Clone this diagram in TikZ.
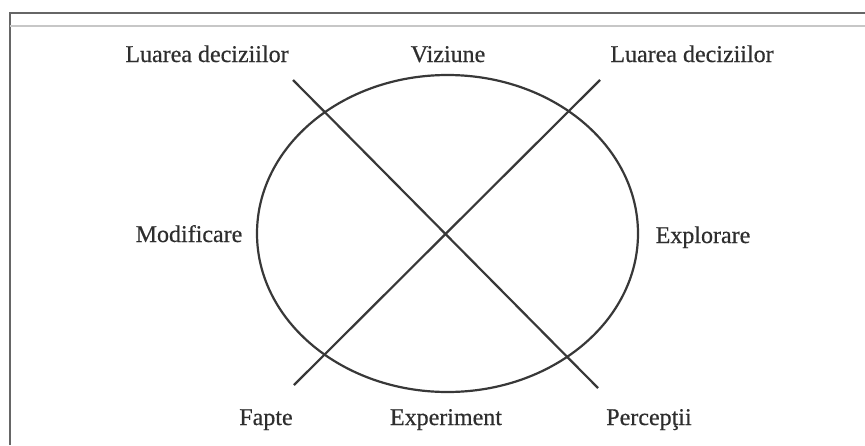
\documentclass[tikz,border=0pt]{standalone}
\usepackage{fontspec}
\setmainfont{Liberation Serif}[UprightFeatures={FakeBold=0.5}]
\begin{document}
\begin{tikzpicture}[x=1pt,y=-1pt,
  lbl/.style={font=\fontsize{24}{28}\selectfont, text=black!82, inner sep=0pt, anchor=base},
  ln/.style={draw=black!78, line width=2.2pt}]
\useasboundingbox (0,0) rectangle (865,445);
\fill[white] (0,0) rectangle (865,445);
% frame
\draw[draw=black!60, line width=2.6pt] (10,445) -- (10,13) -- (865,13);
\draw[draw=black!22, line width=1.4pt] (10,26) -- (865,26);
% circle
\draw[ln] (447.5,233.5) ellipse [x radius=190.5, y radius=158.5];
% crossing lines
\coordinate (a1) at (293,80);
\coordinate (a2) at (598,388);
\coordinate (b1) at (600,80);
\coordinate (b2) at (294,385);
\draw[ln] (a1) -- (a2);
\draw[ln] (b1) -- (b2);
% labels
\node[lbl] (ld1) at (207,62) {Luarea deciziilor};
\node[lbl] (viz) at (448,62) {Viziune};
\node[lbl] (ld2) at (692,62) {Luarea deciziilor};
\node[lbl] (mod) at (189,242) {Modificare};
\node[lbl] (exp) at (703,243) {Explorare};
\node[lbl] (fap) at (266,425) {Fapte};
\node[lbl] (exm) at (446,425) {Experiment};
\node[lbl] (per) at (649,425) {Percepţii};
\end{tikzpicture}
\end{document}
